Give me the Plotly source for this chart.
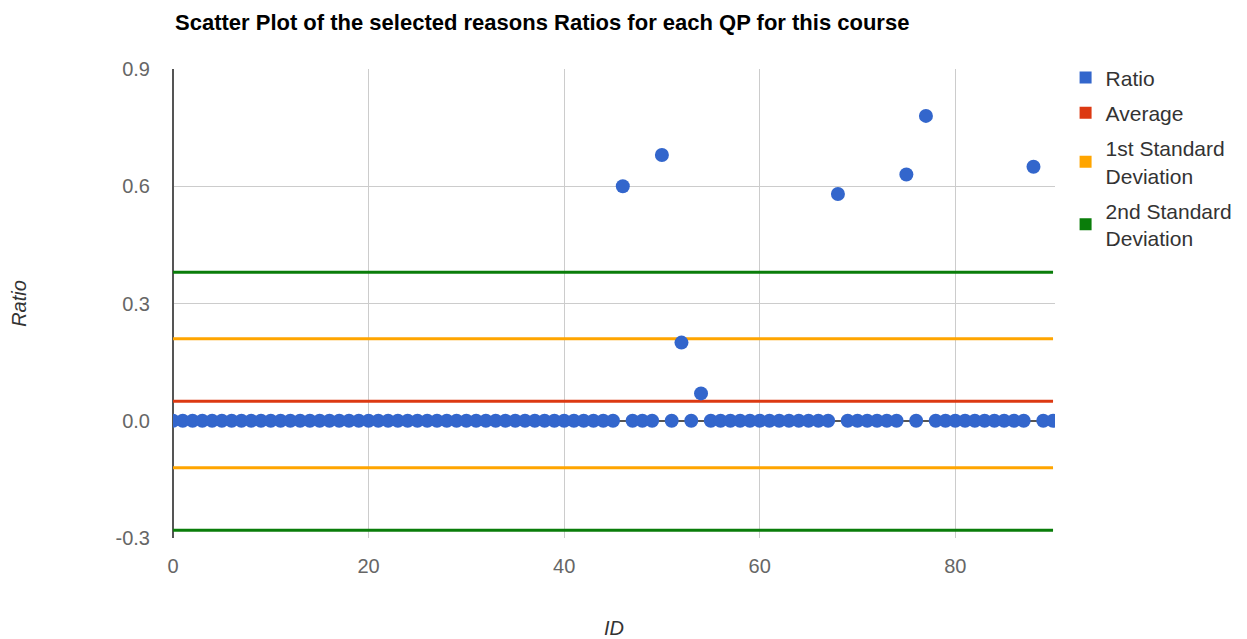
import plotly.graph_objects as go

ids = list(range(0, 91))
ratio_nonzero = {46: 0.60, 50: 0.68, 52: 0.20, 54: 0.07, 68: 0.58, 75: 0.63, 77: 0.78, 88: 0.65}
ratio = [ratio_nonzero.get(i, 0.0) for i in ids]

line_x = [0, 90]
average = 0.05
sd1_upper = 0.21
sd1_lower = -0.12
sd2_upper = 0.38
sd2_lower = -0.28

x_ticks = [0, 20, 40, 60, 80]
y_ticks = [-0.3, 0.0, 0.3, 0.6, 0.9]
y_ticktext = ["-0.3", "0.0", "0.3", "0.6", "0.9"]

BLUE = "#3366cc"
RED = "#dc3912"
ORANGE = "#ffa500"
GREEN = "#0a7d0a"

fig = go.Figure()

def hline(y, color):
    fig.add_trace(go.Scatter(x=line_x, y=[y, y], mode="lines",
                             line=dict(color=color, width=3), showlegend=False,
                             hoverinfo="skip"))

hline(sd2_upper, GREEN)
hline(sd2_lower, GREEN)
hline(sd1_upper, ORANGE)
hline(sd1_lower, ORANGE)
hline(average, RED)

fig.add_trace(go.Scatter(x=ids, y=ratio, mode="markers",
                         marker=dict(color=BLUE, size=14), showlegend=False))

legend_items = [("Ratio", BLUE), ("Average", RED), ("1st Standard<br>Deviation", ORANGE),
                ("2nd Standard<br>Deviation", GREEN)]
for i, (name, color) in enumerate(legend_items):
    fig.add_trace(go.Scatter(x=[None], y=[None], mode="markers", name=name,
                             legendgroup=f"g{i}",
                             marker=dict(symbol="square", color=color, size=20)))

# the page adds an 8px body margin, so the figure is 8px smaller and all offsets shifted
OFF = 8
W, H = 1247 - OFF, 639 - OFF
L, R, T, B = 173 - OFF, 1055 - OFF, 69 - OFF, 538 - OFF

fig.update_layout(
    width=W, height=H,
    margin=dict(l=L, r=W - R, t=T, b=H - B, autoexpand=False),
    plot_bgcolor="white", paper_bgcolor="white",
    font=dict(family="Liberation Sans, Arial, sans-serif", color="#666666"),
    title=dict(text="<b>Scatter Plot of the selected reasons Ratios for each QP for this course</b>",
               x=(175 - OFF) / W, xanchor="left", y=1 - (22 - OFF) / H, yanchor="middle",
               font=dict(family="Liberation Sans, Arial, sans-serif", size=22, color="#000000")),
    xaxis=dict(range=[0, 90.2], tickvals=x_ticks, showgrid=True, gridcolor="#cccccc",
               zeroline=True, zerolinecolor="#555555", zerolinewidth=1.5,
               tickfont=dict(size=20), showline=False, ticks="outside", ticklen=10,
               tickcolor="rgba(0,0,0,0)", automargin=False,
               title=dict(text="<i>ID</i>", font=dict(size=20, color="#333333"), standoff=48)),
    yaxis=dict(range=[-0.3, 0.9], tickvals=y_ticks, ticktext=y_ticktext,
               showgrid=True, gridcolor="#cccccc",
               zeroline=True, zerolinecolor="#555555", zerolinewidth=1.5,
               tickfont=dict(size=20), ticks="outside", ticklen=18,
               tickcolor="rgba(0,0,0,0)", showline=False, automargin=False,
               title=dict(text="<i>Ratio</i>", font=dict(size=20, color="#333333"), standoff=101)),
    legend=dict(x=1.012, xanchor="left", y=1.025, yanchor="top",
                font=dict(size=21, color="#333333"), tracegroupgap=5,
                itemsizing="constant"),
)

fig.write_html("out.html")
